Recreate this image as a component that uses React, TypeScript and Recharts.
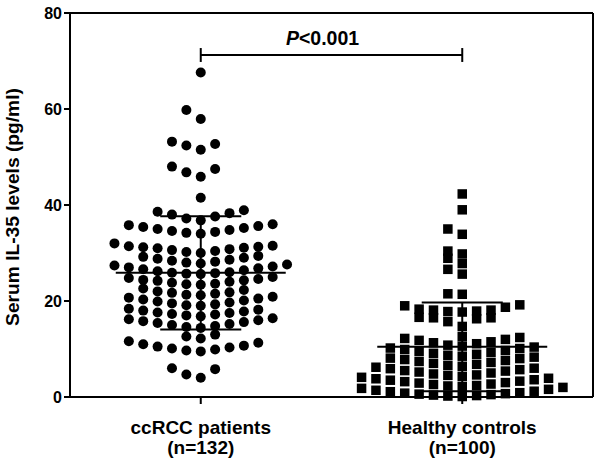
import React from 'react'
import { ScatterChart, Scatter, XAxis, YAxis, ReferenceLine } from 'recharts'

// serum IL-35 (pg/ml)
const ccrccValues = [
  4.0, 4.7, 5.8, 6.0,
  9.5, 9.7, 9.9, 10.1, 10.3, 10.5, 10.7, 11.0, 11.3, 11.6,
  12.2, 12.6, 13.0,
  14.4, 14.6, 14.8, 15.0, 15.2, 15.4, 15.6, 15.8, 16.0, 16.2, 16.4,
  16.8, 17.0, 17.2, 17.3, 17.5, 17.6, 17.8, 18.0, 18.2, 18.4,
  19.0, 19.1, 19.3, 19.5, 19.7, 19.9, 20.1, 20.3, 20.5, 20.7, 20.9,
  21.2, 21.3, 21.5, 21.7, 21.8, 22.0, 22.3, 22.6,
  23.4, 23.5, 23.6, 23.8, 24.0, 24.2, 24.3, 24.4, 24.6, 24.8, 25.0,
  25.6, 25.7, 25.8, 25.9, 26.0, 26.2, 26.4, 26.6, 26.8, 27.0, 27.2, 27.4, 27.6,
  27.8, 28.0, 28.2, 28.4, 28.6, 28.8, 29.0, 29.2, 29.4,
  30.0, 30.2, 30.4, 30.6, 30.8, 31.0, 31.1, 31.2, 31.3, 31.4, 31.5, 32.0,
  34.0, 34.2, 34.4, 34.6, 34.8, 35.0, 35.2, 35.4, 35.6, 35.8, 36.0,
  36.8, 37.2, 37.6, 38.0, 38.3, 38.6, 38.9,
  41.5,
  45.9, 46.8, 47.5, 48.0,
  51.5, 52.4, 52.7, 53.2,
  57.9, 59.8,
  67.6
]

const healthyValues = [
  0.1, 0.2, 0.3, 0.4, 0.5, 0.6, 0.7, 0.8, 0.9, 1.1, 1.2, 1.4, 1.6, 1.8, 2.0,
  2.2, 2.3, 2.4, 2.6, 2.7, 2.9, 3.0, 3.2, 3.3, 3.5, 3.6, 3.8, 3.9, 4.1,
  4.3, 4.5, 4.6, 4.8, 5.0, 5.2, 5.4, 5.5, 5.7, 5.9, 6.0, 6.2,
  6.4, 6.6, 6.8, 7.0, 7.2, 7.4, 7.6, 7.8, 8.0, 8.1, 8.3,
  8.5, 8.7, 8.9, 9.1, 9.3, 9.5, 9.7, 9.9, 10.1, 10.2, 10.4,
  10.6, 10.8, 11.1, 11.3, 11.5, 11.8, 12.0, 12.2, 12.4,
  12.6,
  14.7, 15.7, 16.3, 16.5, 16.5, 16.6,
  17.7, 17.8, 17.9, 18.1, 18.1, 18.3, 18.7, 19.0, 19.2,
  21.4, 21.5,
  25.6, 26.6,
  27.8, 28.9,
  29.8, 30.4,
  33.9, 35.0,
  39.0,
  42.3
]

const groupNames = ['ccRCC patients', 'Healthy controls']
const yTicks = [0, 20, 40, 60, 80]
const pText = '<0.001'

const FONT = '"Liberation Sans", Arial, sans-serif'
const COL_STEP = 0.055
const MEAN_HALF = 0.325
const SD_HALF = 0.155
const BRACKET_Y = 71.25
const BRACKET_TICK = 1.45

// GraphPad-style rows: bin sorted values, lay each bin out from the centre
function swarm(values: number[], center: number, binWidth: number) {
  const sorted = [...values].sort((a, b) => a - b)
  const out: { x: number; y: number }[] = []
  let i = 0
  while (i < sorted.length) {
    const start = sorted[i]
    const row: number[] = []
    while (i < sorted.length && sorted[i] < start + binWidth - 1e-6) {
      row.push(sorted[i])
      i++
    }
    row.forEach((v, k) => {
      const col = k === 0 ? 0 : k % 2 === 1 ? -(k + 1) / 2 : k / 2
      out.push({ x: center + col * COL_STEP, y: v })
    })
  }
  return out
}

const mean = (a: number[]) => a.reduce((s, v) => s + v, 0) / a.length
const sd = (a: number[]) => {
  const m = mean(a)
  return Math.sqrt(a.reduce((s, v) => s + (v - m) ** 2, 0) / (a.length - 1))
}

const groups = [
  { values: ccrccValues, center: 0.5, bin: 2.2 },
  { values: healthyValues, center: 1.5, bin: 2.0 }
]

const Dot = (p: any) => <circle cx={p.cx} cy={p.cy} r={5} fill="#000" />
const Square = (p: any) => <rect x={p.cx - 4.75} y={p.cy - 4.75} width={9.5} height={9.5} fill="#000" />

const XTick = (p: any) => {
  const idx = p.payload.value < 1 ? 0 : 1
  const n = groups[idx].values.length
  return (
    <text x={p.x} y={p.y} textAnchor="middle" fontFamily={FONT} fontWeight="bold" fontSize={19} fill="#000">
      <tspan x={p.x} dy={28}>{groupNames[idx]}</tspan>
      <tspan x={p.x} dy={20}>{`(n=${n})`}</tspan>
    </text>
  )
}

const PLabel = (p: any) => {
  const vb = p.viewBox
  return (
    <text x={vb.x + vb.width / 2 - 9} y={vb.y - 10} textAnchor="middle" fontFamily={FONT} fontWeight="bold" fontSize={19.5} fill="#000">
      <tspan fontStyle="italic">P</tspan>
      {pText}
    </text>
  )
}

const YLabel = () => (
  <text x={19} y={207} transform="rotate(-90 19 207)" textAnchor="middle" fontFamily={FONT} fontWeight="bold" fontSize={19.2} fill="#000">
    Serum IL-35 levels (pg/ml)
  </text>
)

export default function App() {
  const line = { stroke: '#000', strokeWidth: 2 }
  return (
    <div style={{ position: 'absolute', left: 0, top: 0, background: '#fff' }}>
      <ScatterChart width={600} height={466} margin={{ top: 13, right: 7, bottom: 9, left: 10 }}>
        <XAxis
          type="number"
          dataKey="x"
          domain={[0, 2]}
          ticks={[0.5, 1.5]}
          height={60}
          axisLine={line}
          tickLine={line}
          tickSize={7}
          tick={<XTick />}
        />
        <YAxis
          type="number"
          dataKey="y"
          domain={[0, 80]}
          ticks={yTicks}
          width={60}
          axisLine={line}
          tickLine={line}
          tickSize={6}
          tickMargin={2}
          tick={{ fill: '#000', fontSize: 16, fontWeight: 'bold', fontFamily: FONT }}
          label={<YLabel />}
        />
        <ReferenceLine y={80} {...line} />
        <ReferenceLine x={2} {...line} />
        {groups.map((g, i) => (
          <Scatter
            key={i}
            data={swarm(g.values, g.center, g.bin)}
            shape={i === 0 ? Dot : Square}
            isAnimationActive={false}
          />
        ))}
        {groups.map((g, i) => {
          const m = mean(g.values)
          const s = sd(g.values)
          const lo = Math.max(0, m - s)
          return (
            <React.Fragment key={'e' + i}>
              <ReferenceLine segment={[{ x: g.center - MEAN_HALF, y: m }, { x: g.center + MEAN_HALF, y: m }]} {...line} />
              <ReferenceLine segment={[{ x: g.center, y: lo }, { x: g.center, y: m + s }]} {...line} />
              <ReferenceLine segment={[{ x: g.center - SD_HALF, y: m + s }, { x: g.center + SD_HALF, y: m + s }]} {...line} />
              {m - s > 0 && (
                <ReferenceLine segment={[{ x: g.center - SD_HALF, y: m - s }, { x: g.center + SD_HALF, y: m - s }]} {...line} />
              )}
            </React.Fragment>
          )
        })}
        <ReferenceLine
          segment={[{ x: 0.5, y: BRACKET_Y }, { x: 1.5, y: BRACKET_Y }]}
          {...line}
          label={<PLabel />}
        />
        <ReferenceLine segment={[{ x: 0.5, y: BRACKET_Y - BRACKET_TICK }, { x: 0.5, y: BRACKET_Y + BRACKET_TICK }]} {...line} />
        <ReferenceLine segment={[{ x: 1.5, y: BRACKET_Y - BRACKET_TICK }, { x: 1.5, y: BRACKET_Y + BRACKET_TICK }]} {...line} />
      </ScatterChart>
    </div>
  )
}
